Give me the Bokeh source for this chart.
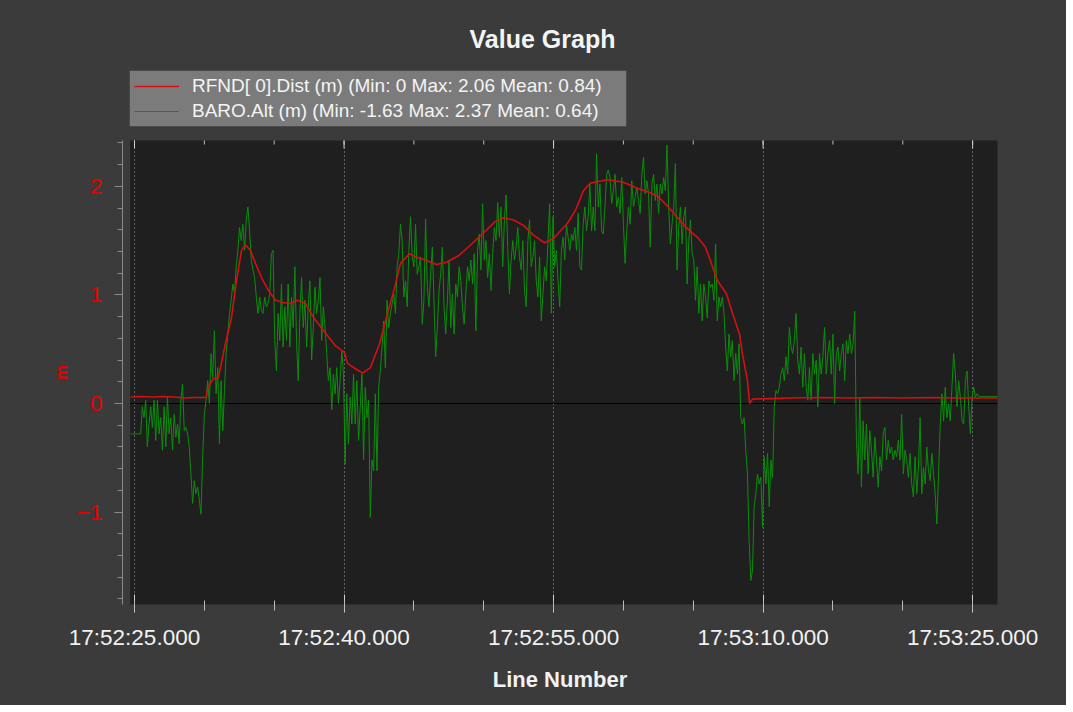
import math
from bokeh.plotting import figure
from bokeh.layouts import column
from bokeh.models import (Range1d, FixedTicker, Legend, LegendItem, Label, BoxAnnotation)
from bokeh.embed import file_html
from bokeh.resources import INLINE

# ---------------- data ----------------
# time axis: seconds after 17:52:00
x_tick_values = [25, 40, 55, 70, 85]
x_tick_labels = ["17:52:25.000", "17:52:40.000", "17:52:55.000", "17:53:10.000", "17:53:25.000"]
x_minor_values = [25, 30, 35, 40, 45, 50, 55, 60, 65, 70, 75, 80, 85]
y_tick_values = [-1, 0, 1, 2]
y_minor_values = [-1.8, -1.6, -1.4, -1.2, -1.0, -0.8, -0.6, -0.4, -0.2, 0.0, 0.2, 0.4,
                  0.6, 0.8, 1.0, 1.2, 1.4, 1.6, 1.8, 2.0, 2.2, 2.4]

title_text = "Value Graph"
rfnd_label = "RFND[ 0].Dist (m) (Min: 0 Max: 2.06 Mean: 0.84)"
baro_label = "BARO.Alt (m) (Min: -1.63 Max: 2.37 Mean: 0.64)"

rfnd_t = [24.71, 25.5, 26.3, 27.0, 27.8, 28.6, 29.3, 30.15,
          30.23, 30.65, 31.01, 31.51, 31.94, 32.30, 32.66, 32.95, 33.30, 33.66,
          34.09, 34.59, 35.09, 35.59, 36.17, 36.67, 37.24, 37.88, 38.67, 39.39,
          40.03, 40.25, 40.82, 41.32, 41.89, 42.54, 43.11, 43.61, 44.04, 44.69,
          45.11, 45.62, 46.62, 47.33, 48.19, 48.98, 49.98, 50.77, 51.41, 52.13,
          52.85, 53.56, 54.35, 55.00, 55.71, 56.00, 56.57, 57.14, 57.64, 58.86,
          59.93, 60.50, 61.01, 61.94, 62.51, 63.15, 63.87, 64.58, 65.30, 65.87,
          66.30, 66.73, 67.38, 67.81, 68.31, 68.52, 68.88, 69.03, 69.24,
          70.5, 72.0, 74.0, 76.0, 78.0, 80.0, 82.0, 84.0, 86.78]
rfnd_v = [0.06, 0.065, 0.06, 0.065, 0.06, 0.05, 0.055, 0.055,
          0.14, 0.23, 0.24, 0.55, 0.79, 1.13, 1.41, 1.46, 1.41, 1.29,
          1.16, 1.04, 0.95, 0.93, 0.92, 0.95, 0.92, 0.78, 0.65, 0.53,
          0.47, 0.37, 0.32, 0.28, 0.33, 0.55, 0.83, 1.06, 1.29, 1.38,
          1.35, 1.33, 1.28, 1.30, 1.36, 1.45, 1.57, 1.67, 1.71, 1.69,
          1.64, 1.55, 1.48, 1.52, 1.62, 1.66, 1.78, 1.96, 2.03, 2.06,
          2.04, 2.01, 1.98, 1.94, 1.90, 1.82, 1.71, 1.61, 1.53, 1.44,
          1.29, 1.13, 1.01, 0.83, 0.64, 0.46, 0.21, 0.0, 0.04,
          0.045, 0.05, 0.055, 0.05, 0.055, 0.05, 0.055, 0.05, 0.05]

# BARO.Alt, sampled every baro_dt seconds from baro_t0
baro_t0 = 24.72
baro_dt = 0.12
baro_alt = [
    -0.28, -0.28, -0.28, -0.28, -0.28, -0.28, -0.28,
    -0.03, -0.13, 0.03, -0.40, -0.19, -0.03, -0.22, 0.03, -0.34, 0.03,
    -0.28, -0.13, -0.43, -0.03, -0.40, 0.06, -0.28, -0.13, -0.43, -0.10,
    -0.31, -0.19, -0.37, 0.03, 0.18, -0.25, -0.22, -0.28, -0.40, -0.65,
    -0.92, -0.71, -0.83, -0.77, -0.89, -1.02, -0.49, -0.10, 0.03, 0.21,
    0.0, 0.46, 0.24, 0.67, 0.09, 0.33, -0.37, 0.21, -0.25, 0.12,
    0.46, 0.64, 0.83, 0.95, 1.10, 1.01, 1.26, 1.41, 1.62, 1.50,
    1.65, 1.41, 1.69, 1.81, 1.59, 1.32, 1.23, 1.16, 0.98, 0.83,
    0.98, 0.86, 0.83, 0.98, 0.89, 0.92, 1.01, 1.38, 1.41, 0.58,
    # 17:52:36 -
    0.30, 0.83, 0.58, 1.10, 0.52, 0.89, 0.58, 1.10, 0.52, 0.98,
    0.70, 1.26, 0.58, 0.21, 0.83, 1.16, 0.70, 0.95, 0.52, 0.89,
    1.13, 0.40, 0.70, 1.07, 0.83, 0.95, 1.16, 0.58, 0.89, 0.70,
    0.46, 0.21, 0.33, -0.06, 0.27, 0.09, 0.33, 0.0, 0.21, 0.49,
    0.27, -0.56, 0.09, -0.37, 0.06, -0.19, 0.27, -0.19, 0.21, -0.34,
    -0.03, 0.27, -0.52, 0.15, -0.13, 0.03, -1.05, -0.52, -0.62, 0.09,
    -0.62, 0.15, 0.30, 0.52, 0.76, 0.33, 0.95, 0.70, 0.83, 0.92,
    1.01, 0.83, 1.26, 1.38, 1.65, 1.50, 0.98, 1.13, 0.89, 1.41,
    1.72, 1.35, 1.26, 1.65, 1.19, 1.26, 1.35,
    # 17:52:45.6 -
    0.73, 0.95, 1.70, 1.07, 0.89, 1.19, 1.44, 0.95, 0.43, 0.70,
    1.04, 1.19, 1.44, 0.89, 0.64, 0.95, 1.32, 0.70, 1.01, 0.64,
    1.10, 0.98, 1.26, 1.13, 0.89, 0.73, 1.01, 1.26, 1.13, 1.32,
    1.10, 1.38, 0.67, 1.41, 1.56, 1.23, 1.84, 1.32, 1.50, 1.16,
    1.38, 1.04, 1.38, 1.62, 1.50, 1.85, 1.53, 1.81, 1.26, 1.69,
    1.92, 1.44, 1.01, 1.32, 1.50, 1.32, 1.44, 1.62, 1.35, 1.23,
    1.50, 1.04, 0.89, 1.50, 1.69, 1.26, 1.35, 1.50, 1.13, 0.98,
    1.35, 0.76, 1.01, 1.26, 1.13, 1.50, 1.84, 0.83, 1.72, 1.26,
    1.41, 1.13, 0.89, 1.41, 1.53, 1.32, 1.65,
    # 17:52:56 -
    1.53, 1.41, 1.56, 1.50, 1.62, 1.41, 1.75, 1.26, 1.23, 1.65,
    1.81, 1.59, 1.72, 2.02, 1.59, 1.81, 1.59, 2.30, 1.81, 2.02,
    1.59, 1.56, 1.81, 2.11, 2.15, 2.08, 1.84, 1.96, 2.11, 1.81,
    1.90, 1.75, 2.08, 1.65, 1.29, 1.59, 1.81, 1.65, 2.05, 1.81,
    1.90, 1.99, 1.87, 1.75, 2.11, 2.27, 1.93, 2.05, 1.93, 1.44,
    2.02, 2.11, 1.87, 2.02, 1.75, 2.02, 1.93, 2.08, 1.96, 2.38,
    1.81, 1.47, 1.65, 1.81, 2.21, 1.23, 1.62, 1.81, 1.47, 1.72,
    1.81, 1.10, 1.50, 1.69, 1.38, 1.32, 0.95, 1.26, 0.83, 1.10,
    0.76, 1.10, 0.98, 0.79, 1.13, 1.07,
    # 17:53:06.4 -
    1.10, 0.95, 1.47, 0.76, 0.98, 0.89, 0.98, 0.83, 0.52, 0.30,
    0.64, 0.43, 0.58, 0.21, 0.46, 0.27, 0.55, -0.13, -0.19, -0.13,
    -0.43, -0.65, -1.26, -1.63, -1.54, -0.95, -0.83, -0.65, -0.74, -0.68,
    -1.14, -0.49, -0.74, -0.46, -0.95, -0.52, -0.68, -0.03, 0.12, 0.09,
    0.15, 0.27, 0.33, 0.21, 0.43, 0.27, 0.70, 0.52, 0.46, 0.58,
    0.83, 0.40, 0.27, 0.52, 0.15, 0.46, 0.15, 0.03, 0.33, 0.03,
    0.46, 0.27, 0.40, -0.03, 0.46, 0.27, 0.43, 0.70, 0.27, 0.46,
    0.58, 0.27, 0.64, 0.0, 0.46, 0.52, 0.30, 0.46, 0.55, 0.21,
    0.58, 0.46, 0.64, 0.46, 0.55,
    # 17:53:16.6 -
    0.85, -0.34, -0.65, 0.06, -0.77, -0.16, -0.52, -0.19, -0.65, -0.25,
    -0.43, -0.68, -0.31, -0.52, -0.77, -0.49, -0.62, -0.28, -0.22, -0.52,
    -0.34, -0.46, -0.40, -0.52, -0.43, -0.49, -0.34, -0.52, -0.10, -0.65,
    -0.43, -0.52, -0.68, -0.46, -0.74, -0.86, -0.49, -0.83, -0.59, -0.13,
    -0.83, -0.59, -0.74, -0.40, -0.62, -0.71, -0.46, -0.65, -0.83, -1.11,
    -0.65, -0.19, 0.09, -0.16, 0.15, -0.13, 0.0, -0.16, 0.15, 0.46,
    0.27, -0.03, 0.21, 0.06, -0.16, -0.19, 0.21, 0.30, -0.03, -0.28,
    0.06, 0.15, 0.06, 0.09,
    0.065, 0.065, 0.065, 0.065, 0.065, 0.065, 0.065, 0.065, 0.065, 0.065, 0.065, 0.065,
]
baro_t = [baro_t0 + baro_dt * i for i in range(len(baro_alt))]

# ---------------- styles ----------------
BG = "#3b3b3b"
PLOT_BG = "#1f1f1f"
RED = "#d41010"
GREEN = "#0a8f0a"
AXIS_RED = "#e80000"
TICK = "#d0d0d0"
FONT = "Liberation Sans"
W = 1066
HEAD_H = 140
MAIN_H = 565
BORDER_L = 122
BG_STYLE = {"background-color": BG}

# ---------------- header (title + legend) ----------------
head = figure(width=W, height=HEAD_H, output_backend="svg", toolbar_location=None,
              x_range=Range1d(0, 1), y_range=Range1d(0, 1),
              x_axis_location=None, y_axis_location=None, min_border=0,
              min_border_left=BORDER_L, min_border_right=69,
              background_fill_color=None, border_fill_color=None,
              outline_line_color=None, styles=BG_STYLE)
head.xgrid.visible = False
head.ygrid.visible = False
# legend keys (their points lie outside the visible header range)
key_red = head.line([2, 3], [2, 3], line_color=RED, line_width=1.6)
key_green = head.line([2, 3], [2, 3], line_color=GREEN, line_width=1.2)

legend = Legend(items=[LegendItem(label=rfnd_label, renderers=[key_red]),
                       LegendItem(label=baro_label, renderers=[key_green])],
                location=(7, HEAD_H - 127), orientation="vertical",
                background_fill_color="#7b7b7b", background_fill_alpha=1,
                border_line_color="#1a1a1a", border_line_width=1,
                label_text_color="#f4f4f4", label_text_font=FONT,
                label_text_font_size="19px", glyph_width=45, glyph_height=22,
                label_height=22, label_standoff=13, label_width=430,
                padding=4, spacing=3, margin=0)
head.add_layout(legend)
head.add_layout(Label(x=542 - BORDER_L, y=HEAD_H - 38, x_units="screen", y_units="screen",
                      text=title_text, text_align="center", text_baseline="middle",
                      text_color="#f4f4f4", text_font=FONT, text_font_style="bold",
                      text_font_size="25px"))

# ---------------- main plot ----------------
p = figure(width=W, height=MAIN_H, output_backend="svg", toolbar_location=None,
           x_range=Range1d(24.141, 86.78), y_range=Range1d(-1.851, 2.4217),
           min_border_left=BORDER_L, min_border_right=69, min_border_top=0,
           min_border_bottom=101, background_fill_color=None, border_fill_color=None,
           outline_line_color=None, styles=BG_STYLE)

# dark data area (starts where the data starts, leaving the y axis detached)
p.add_layout(BoxAnnotation(left=rfnd_t[0], fill_color=PLOT_BG, fill_alpha=1,
                           line_color="#121212", line_width=1, level="image"))

xticker = FixedTicker(ticks=x_tick_values, minor_ticks=x_minor_values)
yticker = FixedTicker(ticks=y_tick_values, minor_ticks=y_minor_values)

xa = p.xaxis[0]
xa.ticker = xticker
xa.major_label_overrides = {v: s for v, s in zip(x_tick_values, x_tick_labels)}
xa.axis_line_color = None
xa.major_tick_line_color = TICK
xa.minor_tick_line_color = "#bdbdbd"
xa.major_tick_in = 10
xa.major_tick_out = 8
xa.minor_tick_in = 4
xa.minor_tick_out = 6
xa.major_label_text_color = "#f2f2f2"
xa.major_label_text_font = FONT
xa.major_label_text_font_size = "22.5px"
xa.major_label_standoff = 12
xa.axis_label = "Line Number"
xa.axis_label_text_color = "#f2f2f2"
xa.axis_label_text_font = FONT
xa.axis_label_text_font_style = "bold"
xa.axis_label_text_font_size = "22px"
xa.axis_label_standoff = 14

ya = p.yaxis[0]
ya.ticker = yticker
ya.axis_line_color = "#8a8a8a"
ya.major_tick_line_color = "#8a8a8a"
ya.minor_tick_line_color = "#8a8a8a"
ya.major_tick_in = 0
ya.major_tick_out = 8
ya.minor_tick_in = 0
ya.minor_tick_out = 5
ya.major_label_text_color = AXIS_RED
ya.major_label_text_font = FONT
ya.major_label_text_font_size = "22.5px"
ya.major_label_standoff = 12
ya.axis_label = "m"
ya.axis_label_text_color = AXIS_RED
ya.axis_label_text_font = FONT
ya.axis_label_text_font_style = "bold"
ya.axis_label_text_font_size = "17px"
ya.axis_label_standoff = 3

p.xgrid.ticker = xticker
p.xgrid.grid_line_color = "#c8c8c8"
p.xgrid.grid_line_dash = "1 3"
p.xgrid.grid_line_alpha = 0.8
p.ygrid.grid_line_color = None

# inward tick marks along the top edge (half of each vertical dash is clipped)
p.scatter(x_minor_values, [p.y_range.end] * len(x_minor_values), marker="dash",
          angle=math.pi / 2, size=8, line_color="#bdbdbd", line_width=1)
p.scatter(x_tick_values, [p.y_range.end] * len(x_tick_values), marker="dash",
          angle=math.pi / 2, size=16, line_color=TICK, line_width=1)

# zero line across the data area
p.line([rfnd_t[0], p.x_range.end], [0, 0], line_color="black", line_width=1.2)

p.line(baro_t, baro_alt, line_color=GREEN, line_width=1)
p.line(rfnd_t, rfnd_v, line_color=RED, line_width=1.6)

layout = column(head, p, spacing=0, styles=BG_STYLE)
open("out.html", "w").write(file_html(layout, INLINE))
